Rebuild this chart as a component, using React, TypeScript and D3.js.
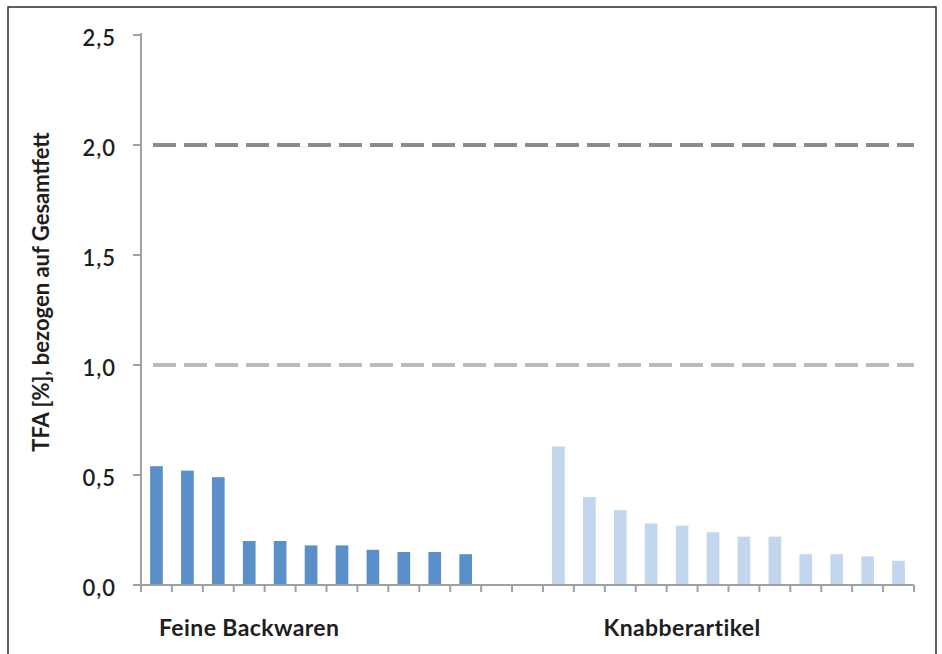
import React from "react";
import * as d3 from "d3";

// TFA content, % of total fat
const feineBackwaren = [0.54, 0.52, 0.49, 0.2, 0.2, 0.18, 0.18, 0.16, 0.15, 0.15, 0.14];
const knabberartikel = [0.63, 0.4, 0.34, 0.28, 0.27, 0.24, 0.22, 0.22, 0.14, 0.14, 0.13, 0.11];
const gapSlots = 2;
const yTicks = [0, 0.5, 1.0, 1.5, 2.0, 2.5];
const limits = [
  { value: 2.0, color: "#8a8b8d" },
  { value: 1.0, color: "#b9babc" },
];
const groupLabels = [
  { label: "Feine Backwaren", slot: 3 },
  { label: "Knabberartikel", slot: 17 },
];

const W = 942;
const H = 654;
const left = 141;
const right = 914;
const top = 35;
const bottom = 585;
const FONT = "Lato, 'Open Sans', sans-serif";

type Bar = { slot: number; value: number; color: string };

const bars: Bar[] = [
  ...feineBackwaren.map((v, i) => ({ slot: i, value: v, color: "#5b8fca" })),
  ...knabberartikel.map((v, i) => ({
    slot: feineBackwaren.length + gapSlots + i,
    value: v,
    color: "#c2d7ee",
  })),
];
const nSlots = feineBackwaren.length + gapSlots + knabberartikel.length;

export default function App() {
  const x = d3
    .scaleBand<number>()
    .domain(d3.range(nSlots))
    .range([left, right])
    .paddingInner(0.59)
    .paddingOuter(0.295);
  const y = d3.scaleLinear().domain([0, 2.5]).range([bottom, top]);
  const step = x.step();
  const fmt = (v: number) => v.toFixed(1).replace(".", ",");

  return (
    <svg
      width={W}
      height={H}
      style={{ position: "absolute", left: 0, top: 0, background: "#fff" }}
    >
      {/* frame */}
      <rect x={8} y={7} width={928} height={H + 10} fill="none" stroke="#2b2b2b" strokeWidth={1.5} />

      {/* limit lines */}
      {limits.map((l) => (
        <line
          key={l.value}
          x1={left + 12}
          x2={right}
          y1={y(l.value)}
          y2={y(l.value)}
          stroke={l.color}
          strokeWidth={4}
          strokeDasharray="23 8"
        />
      ))}

      {/* bars */}
      {bars.map((b) => (
        <rect
          key={b.slot}
          x={x(b.slot)}
          y={y(b.value)}
          width={x.bandwidth()}
          height={bottom - y(b.value)}
          fill={b.color}
        />
      ))}

      {/* y axis */}
      <line x1={left} x2={left} y1={top - 2} y2={bottom} stroke="#a0a1a3" strokeWidth={2} />
      {yTicks.map((t) => (
        <g key={t}>
          <line x1={left - 8} x2={left} y1={y(t)} y2={y(t)} stroke="#a0a1a3" strokeWidth={2} />
          <text
            x={left - 25}
            y={y(t)}
            dy="0.5em"
            textAnchor="end"
            fontFamily={FONT}
            fontSize={22}
            fontWeight={600}
            letterSpacing={1}
            fill="#1e1e1e"
          >
            {fmt(t)}
          </text>
        </g>
      ))}

      {/* x axis */}
      <line x1={left - 8} x2={right} y1={bottom} y2={bottom} stroke="#a0a1a3" strokeWidth={2} />
      {d3.range(nSlots + 1).map((i) => (
        <line
          key={i}
          x1={left + i * step}
          x2={left + i * step}
          y1={bottom}
          y2={bottom + 7}
          stroke="#a0a1a3"
          strokeWidth={2}
        />
      ))}

      {groupLabels.map((g) => (
        <text
          key={g.label}
          x={(x(g.slot) ?? 0) + x.bandwidth() / 2}
          y={636}
          textAnchor="middle"
          fontFamily={FONT}
          fontSize={23}
          fontWeight={700}
          letterSpacing={0.4}
          fill="#1e1e1e"
        >
          {g.label}
        </text>
      ))}

      {/* y title */}
      <text
        transform={`translate(49,292) rotate(-90)`}
        textAnchor="middle"
        fontFamily={FONT}
        fontSize={22}
        fontWeight={700}
        fill="#1e1e1e"
      >
        TFA [%], bezogen auf Gesamtfett
      </text>
    </svg>
  );
}
